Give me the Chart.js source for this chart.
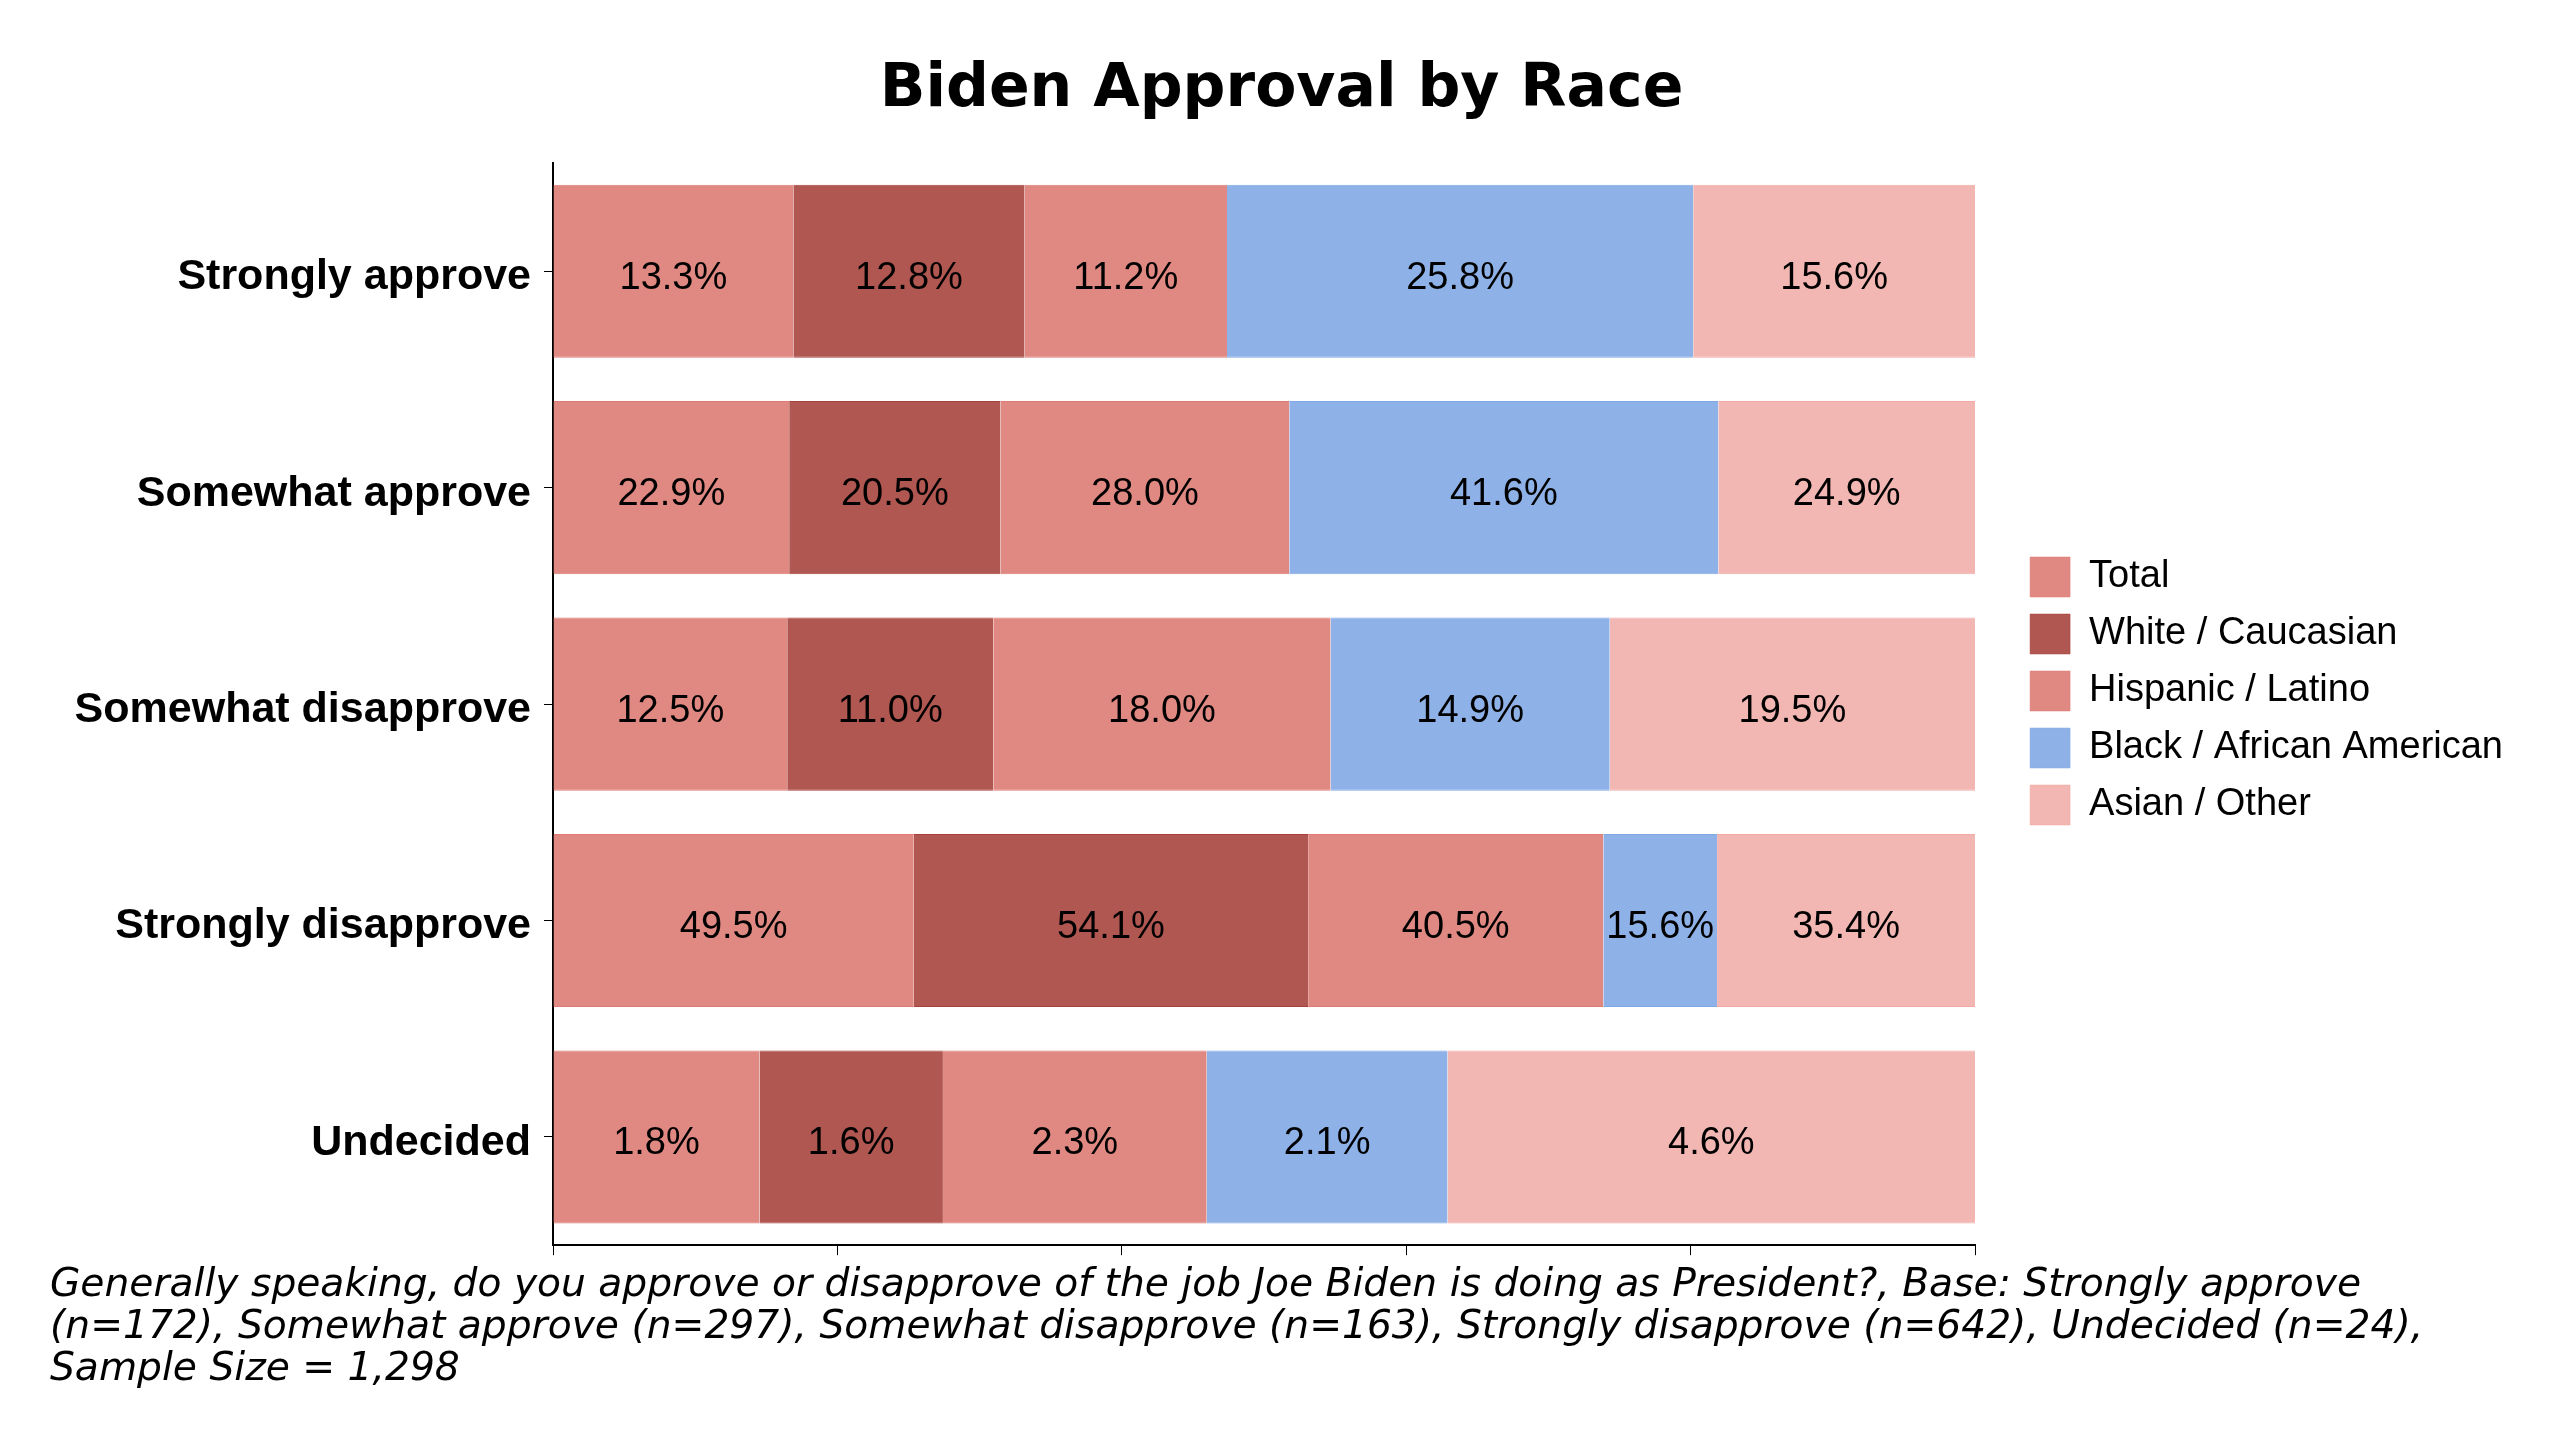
<!DOCTYPE html>
<html>
<head>
<meta charset="utf-8">
<script src="https://cdn.jsdelivr.net/npm/chart.js@4.4.1/dist/chart.umd.min.js"></script>
<style>
  html, body { margin: 0; padding: 0; background: #ffffff; }
  #wrap { width: 2560px; height: 1440px; position: relative; }
</style>
</head>
<body>
<div id="wrap"><canvas id="c" width="2560" height="1440"></canvas></div>
<script>
// ---------------- data ----------------
const categories = ['Strongly approve', 'Somewhat approve', 'Somewhat disapprove', 'Strongly disapprove', 'Undecided'];
const seriesNames = ['Total', 'White / Caucasian', 'Hispanic / Latino', 'Black / African American', 'Asian / Other'];
const totalValues    = [13.3, 22.9, 12.5, 49.5, 1.8];
const whiteValues    = [12.8, 20.5, 11.0, 54.1, 1.6];
const hispanicValues = [11.2, 28.0, 18.0, 40.5, 2.3];
const blackValues    = [25.8, 41.6, 14.9, 15.6, 2.1];
const asianValues    = [15.6, 24.9, 19.5, 35.4, 4.6];
const xTickValues = [0, 20, 40, 60, 80, 100];
const titleText = 'Biden Approval by Race';
const footnoteLines = [
  'Generally speaking, do you approve or disapprove of the job Joe Biden is doing as President?, Base: Strongly approve',
  '(n=172), Somewhat approve (n=297), Somewhat disapprove (n=163), Strongly disapprove (n=642), Undecided (n=24),',
  'Sample Size = 1,298'
];

// ---------------- styles ----------------
const fillColors   = ['#E08882', '#B05751', '#E08882', '#8EB2E8', '#F2B7B3'];
const borderColors = ['#E07A74', '#A8403A', '#E07A74', '#7FA8E6', '#F2AAA6'];
const SANS = '"Liberation Sans", Arial, Helvetica, sans-serif';
const VERA = '"DejaVu Sans", Verdana, sans-serif';

const allSeries = [totalValues, whiteValues, hispanicValues, blackValues, asianValues];
const rowTotals = categories.map((_, i) => allSeries.reduce((s, arr) => s + arr[i], 0));

const datasets = allSeries.map((vals, k) => ({
  label: seriesNames[k],
  rawValues: vals,
  data: vals.map((v, i) => v / rowTotals[i] * 100),
  backgroundColor: fillColors[k],
  borderColor: borderColors[k],
  borderWidth: { top: 1, bottom: 1, left: 0, right: 0 },
  borderSkipped: false,
  categoryPercentage: 1.0,
  barPercentage: 0.8
}));

const valueLabels = {
  id: 'valueLabels',
  afterDatasetsDraw(chart) {
    const ctx = chart.ctx;
    ctx.save();
    ctx.font = '38px ' + SANS;
    ctx.fillStyle = '#000';
    ctx.textAlign = 'center';
    ctx.textBaseline = 'middle';
    chart.data.datasets.forEach((ds, di) => {
      const meta = chart.getDatasetMeta(di);
      meta.data.forEach((el, i) => {
        const x = (el.x + el.base) / 2;
        ctx.fillText(ds.rawValues[i].toFixed(1) + '%', x, el.y + 7);
      });
    });
    ctx.restore();
  }
};

new Chart(document.getElementById('c'), {
  type: 'bar',
  data: { labels: categories, datasets },
  plugins: [valueLabels],
  options: {
    indexAxis: 'y',
    responsive: false,
    animation: false,
    devicePixelRatio: 1,
    layout: { padding: { left: 50, right: 47, top: -9, bottom: 49 } },
    plugins: {
      tooltip: { enabled: false },
      title: {
        display: true,
        text: titleText,
        color: '#000',
        font: { family: VERA, size: 60, weight: 'bold', lineHeight: 1.2 },
        padding: { top: 63, bottom: 37 }
      },
      subtitle: {
        display: true,
        position: 'bottom',
        align: 'start',
        text: footnoteLines,
        color: '#000',
        font: { family: VERA, size: 39.2, style: 'italic', weight: 'normal', lineHeight: 1.07 },
        padding: { top: 10, bottom: 0 }
      },
      legend: {
        display: true,
        position: 'right',
        align: 'center',
        maxWidth: 700,
        labels: {
          boxWidth: 40,
          boxHeight: 40,
          padding: 17,
          color: '#000',
          font: { family: SANS, size: 38 }
        }
      }
    },
    scales: {
      x: {
        type: 'linear',
        stacked: true,
        min: 0,
        max: 100,
        afterBuildTicks: s => { s.ticks = xTickValues.map(v => ({ value: v })); },
        ticks: { display: false },
        grid: { display: true, drawOnChartArea: false, drawTicks: true, tickLength: 10, color: '#000', lineWidth: 1 },
        border: { display: true, color: '#000', width: 2 }
      },
      y: {
        type: 'category',
        stacked: true,
        offset: true,
        position: 'left',
        afterFit: s => { s.width = 503; },
        ticks: { color: '#000', padding: 13, labelOffset: 6, font: { family: SANS, size: 43, weight: 'bold' } },
        grid: { display: true, offset: false, drawOnChartArea: false, drawTicks: true, tickLength: 9, color: '#000', lineWidth: 1 },
        border: { display: true, color: '#000', width: 2 }
      },
      y2: {
        type: 'category',
        position: 'right',
        display: true,
        afterFit: s => { s.width = 38; },
        ticks: { display: false },
        grid: { display: false },
        border: { display: false }
      }
    }
  }
});
</script>
</body>
</html>
